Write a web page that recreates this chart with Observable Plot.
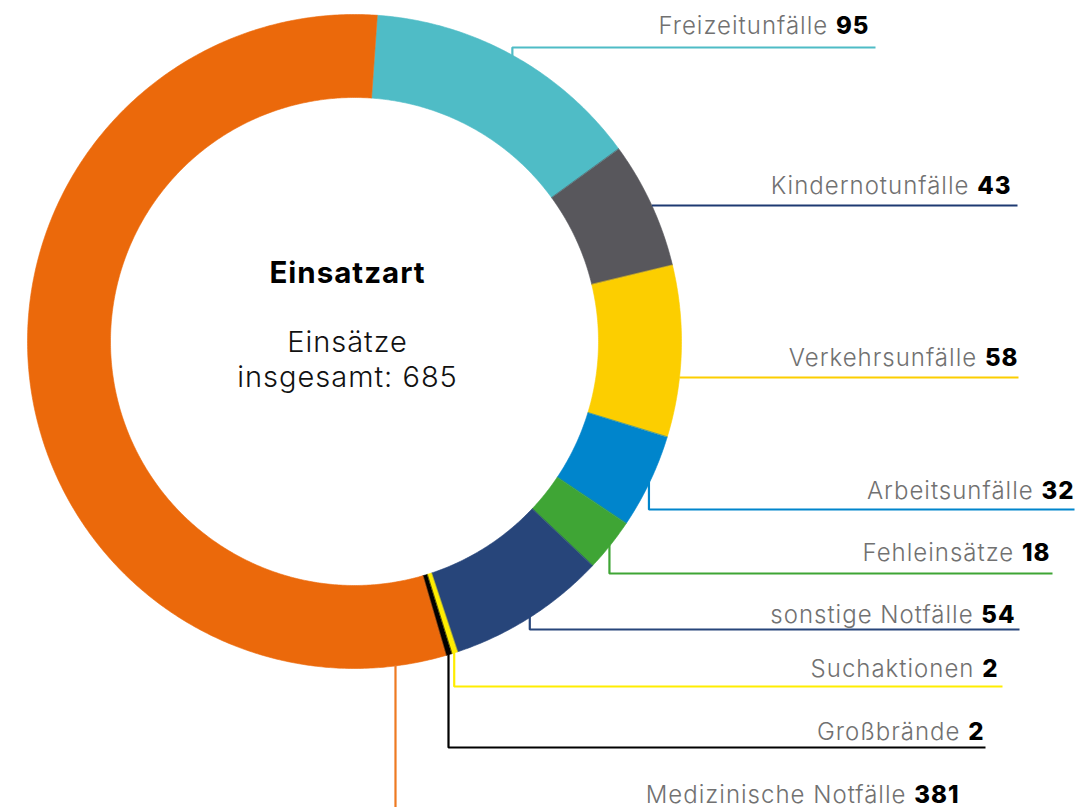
<!DOCTYPE html>
<html><head><meta charset="utf-8">
<script src="https://cdn.jsdelivr.net/npm/d3@7"></script>
<script src="https://cdn.jsdelivr.net/npm/@observablehq/plot@0.6"></script>
<style>
html,body{margin:0;padding:0;background:#fff;}
#chart{width:1091px;height:807px;overflow:hidden;}
#chart svg text{letter-spacing:1px;}
</style></head><body><div id="chart"></div>
<script>
// ---- data ----
const categories = ["Freizeitunfälle","Kindernotunfälle","Verkehrsunfälle","Arbeitsunfälle","Fehleinsätze","sonstige Notfälle","Suchaktionen","Großbrände","Medizinische Notfälle"];
const values = [95, 43, 58, 32, 18, 54, 2, 2, 381];
const sliceColors = ["#4FBCC6","#58575C","#FCCE00","#0085CC","#3FA535","#27457A","#FFED00","#000000","#EB690B"];
const leaderColors = ["#4FBCC6","#1E3A72","#FCCE00","#0085CC","#3FA535","#27457A","#FFED00","#000000","#EE7A22"];
const centerTitle = "Einsatzart";
const centerLines = ["Einsätze", "insgesamt: 685"];

// ---- layout (pixels) ----
const W = 1091, H = 807;
const CX = 354, CY = 341, R_OUT = 327, R_IN = 244, START_DEG = 4;
const labelRowY  = [47, 205, 377, 509, 573, 629, 686, 747, 840];
const labelTextY = [33, 193, 365, 498, 560, 622, 676, 739, 802];
const labelEndX  = [868, 1010, 1017, 1073, 1049, 1014, 997, 983, 958];
const lineEndX   = [875, 1017, 1018, 1074, 1052, 1019, 1002, 985, 985];
const FONT = "Inter, 'Noto Sans', sans-serif";
const FS = 24, LS = 1;

// ---- build ----
const rad = Math.PI / 180;
const pie = d3.pie().sort(null).startAngle(START_DEG * rad).endAngle(START_DEG * rad + 2 * Math.PI);
const arcs = pie(values);
const pt = (r, a) => ({x: CX + r * Math.sin(a), y: CY - r * Math.cos(a)});

const ring = [];
arcs.forEach((a, i) => {
  const span = a.endAngle - a.startAngle;
  const n = Math.max(2, Math.ceil(span / rad * 2));
  for (let k = 0; k <= n; k++) ring.push({key: categories[i], color: sliceColors[i], ...pt(R_OUT, a.startAngle + span * k / n)});
  for (let k = n; k >= 0; k--) ring.push({key: categories[i], color: sliceColors[i], ...pt(R_IN, a.startAngle + span * k / n)});
});

const leaders = [];
arcs.forEach((a, i) => {
  const span = a.endAngle - a.startAngle;
  const mid = span > Math.PI ? a.startAngle + span * 0.045 : (a.startAngle + a.endAngle) / 2;
  const rowY = labelRowY[i];
  const midDeg = mid / rad;
  let start;
  if (midDeg > 45 && midDeg < 110) {
    const th = Math.acos((CY - rowY) / R_OUT);
    start = pt(R_OUT, th);
    leaders.push({key: categories[i], color: leaderColors[i], x: start.x, y: rowY});
  } else {
    start = pt(R_OUT - 1, mid);
    leaders.push({key: categories[i], color: leaderColors[i], x: start.x, y: start.y});
    leaders.push({key: categories[i], color: leaderColors[i], x: start.x, y: rowY});
  }
  leaders.push({key: categories[i], color: leaderColors[i], x: lineEndX[i], y: rowY});
});

const ctx = document.createElement("canvas").getContext("2d");
const labels = categories.map((c, i) => {
  const num = String(values[i]);
  ctx.font = `800 ${FS}px ${FONT}`;
  const nw = ctx.measureText(num).width + LS * num.length;
  ctx.font = `300 ${FS}px ${FONT}`;
  const sw = ctx.measureText(" ").width + LS;
  return {name: c, value: num, xEnd: labelEndX[i] + LS, xName: labelEndX[i] + LS - nw - sw, y: labelTextY[i]};
});

const titleRow = [{t: centerTitle, y: 282}];
const subRows = [{t: centerLines[0], y: 351}, {t: centerLines[1], y: 386}];

const chart = Plot.plot({
  width: W, height: H, margin: 0,
  x: {domain: [0, W], range: [0, W], axis: null},
  y: {domain: [0, H], range: [0, H], axis: null},
  style: {fontFamily: FONT, background: "#fff"},
  marks: [
    Plot.line(ring, {x: "x", y: "y", z: "key", fill: "color", stroke: "color", strokeWidth: 0.6, curve: "linear-closed"}),
    Plot.line(leaders, {x: "x", y: "y", z: "key", stroke: "color", strokeWidth: 2.2, curve: "linear", strokeLinejoin: "miter", strokeLinecap: "butt"}),
    Plot.text(labels, {x: "xName", y: "y", text: "name", textAnchor: "end", lineAnchor: "bottom", fontSize: FS, fontWeight: 300, fill: "#717171"}),
    Plot.text(labels, {x: "xEnd", y: "y", text: "value", textAnchor: "end", lineAnchor: "bottom", fontSize: FS, fontWeight: 800, fill: "#000"}),
    Plot.text(titleRow, {x: () => CX - 7, y: "y", text: "t", textAnchor: "middle", lineAnchor: "bottom", fontSize: 29.5, fontWeight: 700, fill: "#000"}),
    Plot.text(subRows, {x: () => CX - 7, y: "y", text: "t", textAnchor: "middle", lineAnchor: "bottom", fontSize: 29, fontWeight: 300, fill: "#111"})
  ]
});
document.getElementById("chart").appendChild(chart);
</script></body></html>
